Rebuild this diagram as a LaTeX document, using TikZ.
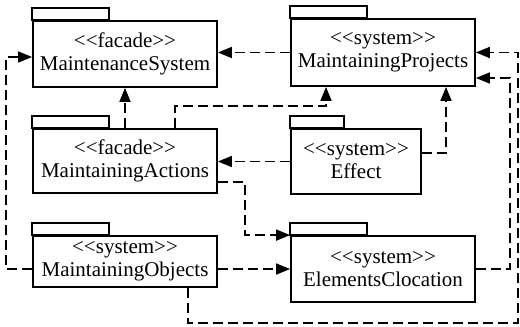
\documentclass[tikz,border=0pt]{standalone}
\usepackage{fontspec}
\setmainfont{LiberationSerif}[Extension=.ttf, UprightFont=*-Regular, BoldFont=*-Bold]
\usetikzlibrary{arrows.meta}
\newcommand{\stereo}[1]{\textless\kern0pt\textless#1\textgreater\kern0pt\textgreater}
\tikzset{
  pkg/.style={draw, line width=1.8pt, fill=white, align=center, inner sep=0pt,
    minimum width=184pt, minimum height=66pt},
  pkgtab/.style={draw, line width=1.8pt},
  dep/.style={-{Triangle[length=14pt,width=11pt]}, line width=1.7pt,
    dash pattern=on 10pt off 5pt}
}

\begin{document}
\begin{tikzpicture}[x=1pt, y=-1pt, font=\rmfamily\fontsize{21}{23}\selectfont]
  \useasboundingbox (0,0) rectangle (520,327);

  %% ── Packages ────────────────────────────────────────────────────
  \node[pkg] (ms) at (125,54) {\stereo{facade}\\MaintenanceSystem};
  \node[pkg, minimum height=67pt] (mp) at (383,52.5) {\stereo{system}\\MaintainingProjects};
  \node[pkg, minimum height=64pt] (ma) at (125,161) {\stereo{facade}\\MaintainingActions};
  \node[pkg, minimum width=130pt, minimum height=65pt] (eff) at (356,161.5) {\stereo{system}\\Effect};
  \node[pkg, minimum height=51pt] (mo) at (125,261.5) {\stereo{system}\\MaintainingObjects};
  \node[pkg] (ec) at (383,269) {\stereo{system}\\ElementsClocation};

  % tabs on top of each package
  \foreach \p/\w in {ms/77, mp/77, ma/77, eff/54, mo/77, ec/77}{
    \draw[pkgtab] (\p.north west) rectangle ++(\w,-12);
  }

  %% ── Dependencies ────────────────────────────────────────────────
  \coordinate (rim) at (518,323);

  \draw[dep] (mp.west) -- (mp.west -| ms.east);
  \draw[dep] (ma.north) -- (ms.south);
  \draw[dep] ([xshift=50pt]ma.north) -- ++(0,-22) -| ([xshift=-57pt]mp.south);
  \draw[dep] (eff.west) -- (eff.west -| ma.east);
  \draw[dep] ([yshift=8.5pt]eff.east) -| ([xshift=63pt]mp.south);
  \draw[dep] (ec.east) -- ++(34,0) |- ([yshift=-25.5pt]mp.east);
  \draw[dep] ([xshift=63pt]mo.south) |- (rim) |- (mp.east);
  \draw[dep] ([yshift=-21pt]ma.east) -- ++(27,0) |- (ec.north west);
  \draw[dep] (mo.east |- ec.west) -- (ec.west);
  \draw[dep] (mo.west |- ec.west) -- ++(-26,0) |- ([yshift=-3pt]ms.west);

\end{tikzpicture}
\end{document}
